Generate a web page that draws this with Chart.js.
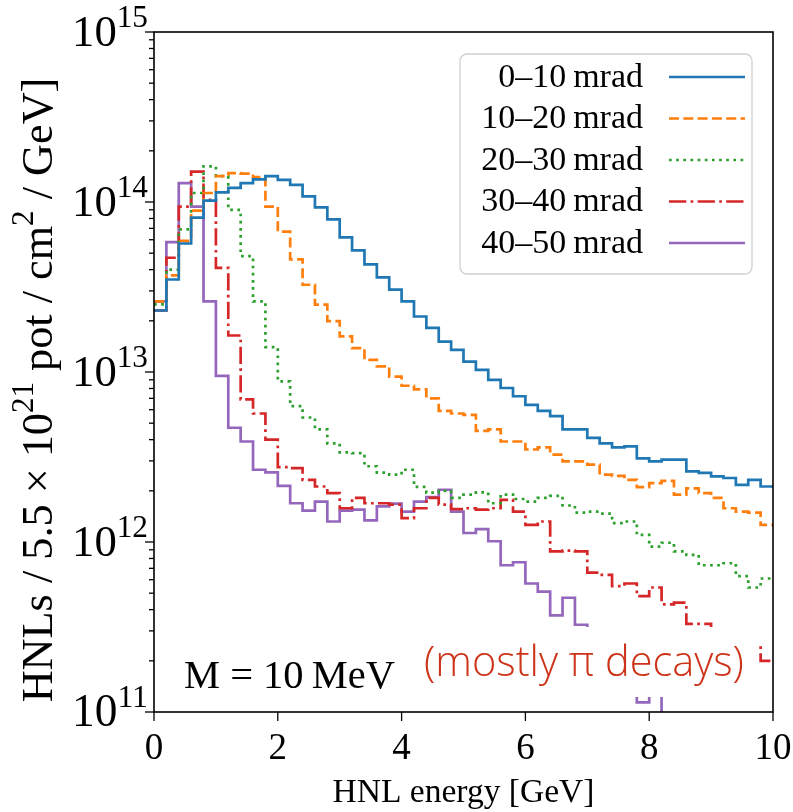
<!DOCTYPE html>
<html><head><meta charset="utf-8">
<script src="https://cdn.jsdelivr.net/npm/chart.js@4"></script>
<style>html,body{margin:0;padding:0;background:#fff}#wrap{width:793px;height:812px}</style>
</head><body><div id="wrap"><canvas id="c" width="793" height="812"></canvas></div>
<script>
// bin edges in GeV (x categories)
const binEdges = [0,0.2,0.4,0.6,0.8,1,1.2,1.4,1.6,1.8,2,2.2,2.4,2.6,2.8,3,3.2,3.4,3.6,3.8,4,4.2,4.4,4.6,4.8,5,5.2,5.4,5.6,5.8,6,6.2,6.4,6.6,6.8,7,7.2,7.4,7.6,7.8,8,8.2,8.4,8.6,8.8,9,9.2,9.4,9.6,9.8,10];
const seriesLabels = ['0\u201310\u2009mrad','10\u201320\u2009mrad','20\u201330\u2009mrad','30\u201340\u2009mrad','40\u201350\u2009mrad'];
const mrad0_10 = [2.3e13,3.5e13,5.7e13,8.1e13,1.02e14,1.14e14,1.21e14,1.29e14,1.36e14,1.42e14,
 1.35e14,1.26e14,1.08e14,9.3e13,7.9e13,6.2e13,5.2e13,4.3e13,3.6e13,3.05e13,
 2.6e13,2.12e13,1.82e13,1.51e13,1.35e13,1.15e13,1.03e13,9.0e12,8.05e12,7.2e12,
 6.4e12,5.9e12,5.5e12,4.6e12,4.6e12,4.1e12,3.8e12,3.6e12,3.65e12,3.1e12,
 2.98e12,3.05e12,3.05e12,2.6e12,2.55e12,2.43e12,2.38e12,2.17e12,2.32e12,2.12e12];
const mrad10_20 = [2.6e13,3.7e13,5.9e13,8.9e13,1.13e14,1.42e14,1.48e14,1.47e14,1.40e14,9.4e13,
 6.7e13,4.6e13,3.26e13,2.49e13,1.99e13,1.62e13,1.38e13,1.18e13,1.08e13,9.4e12,
 8.3e12,7.9e12,7.0e12,5.9e12,5.7e12,5.6e12,4.5e12,4.6e12,3.9e12,3.9e12,
 3.5e12,3.6e12,3.27e12,2.98e12,2.98e12,2.85e12,2.49e12,2.45e12,2.32e12,2.1e12,
 2.22e12,2.29e12,1.9e12,2.07e12,1.94e12,1.82e12,1.58e12,1.51e12,1.49e12,1.26e12];
const mrad20_30 = [2.5e13,4.0e13,6.9e13,1.13e14,1.62e14,1.42e14,9.0e13,4.8e13,2.6e13,1.40e13,
 8.8e12,6.3e12,5.4e12,4.6e12,3.8e12,3.37e12,3.33e12,2.79e12,2.56e12,2.49e12,
 2.66e12,2.11e12,1.95e12,2.0e12,1.82e12,1.9e12,1.96e12,1.69e12,1.9e12,1.79e12,
 1.73e12,1.82e12,1.87e12,1.64e12,1.49e12,1.51e12,1.47e12,1.29e12,1.32e12,1.10e12,
 9.4e11,9.9e11,8.8e11,8.4e11,7.3e11,7.3e11,7.5e11,6.3e11,5.4e11,6.1e11];
const mrad30_40 = [2.3e13,4.7e13,9.4e13,1.51e14,1.03e14,4.1e13,1.64e13,6.9e12,5.7e12,4.0e12,
 2.76e12,2.72e12,2.32e12,2.12e12,1.94e12,1.58e12,1.82e12,1.69e12,1.69e12,1.66e12,
 1.38e12,1.58e12,1.82e12,1.66e12,1.56e12,1.58e12,1.55e12,1.58e12,1.77e12,1.51e12,
 1.26e12,1.32e12,8.8e11,8.9e11,8.8e11,6.6e11,6.4e11,5.5e11,5.7e11,4.8e11,
 5.4e11,4.3e11,4.4e11,3.3e11,3.3e11,2.9e11,2.8e11,2.7e11,2.45e11,2.0e11];
const mrad40_50 = [2.6e13,5.8e13,1.29e14,9.4e13,2.6e13,9.5e12,4.7e12,3.9e12,2.66e12,2.57e12,
 2.14e12,1.69e12,1.53e12,1.73e12,1.32e12,1.53e12,1.55e12,1.34e12,1.62e12,1.68e12,
 1.51e12,1.73e12,1.84e12,2.03e12,1.51e12,1.13e12,1.19e12,1.01e12,7.3e11,7.6e11,
 5.7e11,5.1e11,3.7e11,4.7e11,3.26e11,2.5e11,2.2e11,1.9e11,1.6e11,1.14e11,
 1.5e11,5e10,null,null,null,null,null,null,null,null];
const xTickValues = [0,2,4,6,8,10];
const yDecades = [11,12,13,14,15];

const colors = ['#1f77b4','#ff7f0e','#2ca02c','#d62728','#9467bd'];
const LW = 2.7;
const dashes = [[], [3.7*LW,1.6*LW], [1*LW,1.65*LW], [6.4*LW,1.6*LW,1*LW,1.6*LW], []];
const allSeries = [mrad0_10, mrad10_20, mrad20_30, mrad30_40, mrad40_50];

function toSteps(vals){
  const pts = vals.map((v,i)=>({x:binEdges[i], y:v}));
  pts.push({x:binEdges[vals.length], y:vals[vals.length-1]});
  return pts;
}

const SERIF = '"Liberation Serif","DejaVu Serif",serif';
const SANS = '"Open Sans","Liberation Sans",Arial,sans-serif';

// draw a sequence of normal/superscript runs, sized to span `width` px
function drawRuns(ctx, runs, width, x, y, align, family, weight){
  family = family || SERIF; weight = weight ? weight+' ' : '';
  const measure = s => {
    let t=0; runs.forEach(r=>{ctx.font=weight+(r.sup?s*0.7:s)+'px '+family; t+=ctx.measureText(r.t).width;}); return t;
  };
  const size = 100*width/measure(100);
  const total = measure(size);
  let cx = align==='right' ? x-total : align==='center' ? x-total/2 : x;
  ctx.textAlign='left'; ctx.textBaseline='alphabetic';
  runs.forEach(r=>{ctx.font=weight+(r.sup?size*0.7:size)+'px '+family; ctx.fillText(r.t, cx, r.sup? y-size*0.42 : y); cx+=ctx.measureText(r.t).width;});
  return size;
}

const deco = {
  id:'deco',
  afterDatasetsDraw(chart){
    const {ctx, chartArea:a, scales:{x, y}} = chart;
    ctx.save();
    // annotation label background
    ctx.fillStyle='#fff';
    ctx.fillRect(415, 627, 343, 70);
    ctx.fillStyle='#000';
    drawRuns(ctx, [{t:'M = 10\u2009MeV'}], 211, 184, 688, 'left');
    ctx.fillStyle='#cc3318';
    drawRuns(ctx, [{t:'(mostly \u03c0 decays)'}], 320, 424, 676, 'left', SANS, 300);

    // frame
    ctx.strokeStyle='#000'; ctx.lineWidth=1.6;
    ctx.strokeRect(a.left, a.top, a.right-a.left, a.bottom-a.top);
    // y ticks
    ctx.lineWidth=1.3;
    yDecades.forEach(e=>{
      for(let m=1;m<=9;m++){
        const v = m*Math.pow(10,e); if(v>1e15*1.0001) break;
        const py = y.getPixelForValue(v);
        const len = m===1?9:5;
        ctx.beginPath(); ctx.moveTo(a.left-len, py); ctx.lineTo(a.left, py); ctx.stroke();
      }
      const py = y.getPixelForValue(Math.pow(10,e));
      ctx.fillStyle='#000';
      drawRuns(ctx, [{t:'10'},{t:String(e),sup:true}], 76, 148, py+14, 'right');
    });
    // x ticks
    ctx.font='37px '+SERIF; ctx.textAlign='center'; ctx.textBaseline='alphabetic';
    xTickValues.forEach(v=>{
      const px = x.getPixelForValue(v);
      ctx.beginPath(); ctx.moveTo(px, a.bottom); ctx.lineTo(px, a.bottom+9); ctx.stroke();
      ctx.fillText(String(v), px, a.bottom+47);
    });
    // axis titles
    drawRuns(ctx, [{t:'HNL energy [GeV]'}], 262, (a.left+a.right)/2, 802, 'center');
    ctx.save();
    ctx.translate(52, 390); ctx.rotate(-Math.PI/2);
    drawRuns(ctx, [{t:'HNLs / 5.5 \u00d7 10'},{t:'21',sup:true},{t:' pot / cm'},{t:'2',sup:true},{t:' / GeV]'}], 625, 0, 0, 'center');
    ctx.restore();

    // legend
    const lx=460, ly=54, lw=292, lh=220, r=7;
    ctx.beginPath();
    ctx.moveTo(lx+r,ly); ctx.arcTo(lx+lw,ly,lx+lw,ly+lh,r); ctx.arcTo(lx+lw,ly+lh,lx,ly+lh,r);
    ctx.arcTo(lx,ly+lh,lx,ly,r); ctx.arcTo(lx,ly,lx+lw,ly,r); ctx.closePath();
    ctx.fillStyle='rgba(255,255,255,0.8)'; ctx.fill();
    ctx.strokeStyle='#d0d0d0'; ctx.lineWidth=1.3; ctx.stroke();
    chart.data.datasets.forEach((ds,i)=>{
      const cy = 77 + i*41.5;
      ctx.fillStyle='#000'; ctx.font='34px '+SERIF; ctx.textAlign='right'; ctx.textBaseline='middle';
      ctx.fillText(ds.label, 643, cy+1);
      ctx.strokeStyle=ds.borderColor; ctx.lineWidth=LW; ctx.setLineDash(ds.borderDash||[]);
      ctx.beginPath(); ctx.moveTo(669, cy); ctx.lineTo(745, cy); ctx.stroke();
      ctx.setLineDash([]);
    });
    ctx.restore();
  }
};

new Chart(document.getElementById('c'), {
  type:'line',
  data:{ datasets: allSeries.map((s,i)=>({
    label: seriesLabels[i], data: toSteps(s), borderColor: colors[i], backgroundColor: colors[i],
    borderWidth: LW, borderDash: dashes[i], stepped: true, pointRadius: 0, fill:false, spanGaps:false
  }))},
  options:{
    responsive:false, animation:false, devicePixelRatio:1,
    layout:{padding:{left:154, right:20, top:32, bottom:100}},
    plugins:{legend:{display:false}, tooltip:{enabled:false}},
    scales:{
      x:{type:'linear', min:0, max:10, display:false},
      y:{type:'logarithmic', min:1e11, max:1e15, display:false}
    }
  },
  plugins:[deco]
});
</script></body></html>
